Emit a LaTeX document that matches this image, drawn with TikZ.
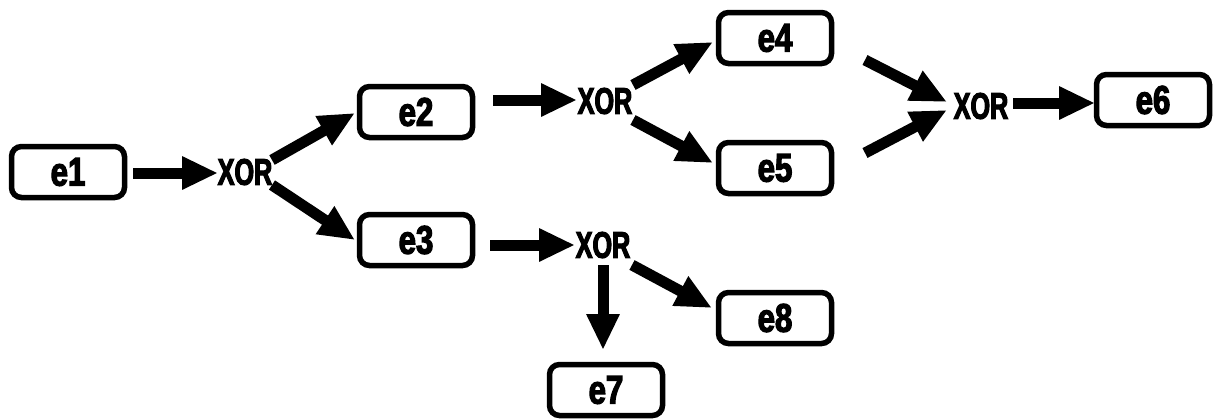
\documentclass[tikz,border=0pt]{standalone}
\usepackage{fontspec}
\newfontfamily\labelfont[FakeStretch=0.78,FakeBold=3]{Liberation Sans}
\newfontfamily\gatefont[FakeStretch=0.68,FakeBold=3]{Liberation Sans}
\usetikzlibrary{arrows.meta,calc}

\begin{document}
\begin{tikzpicture}[x=1pt,y=-1pt,
  event/.style={draw,line width=5.5pt,rounded corners=10pt,minimum width=113pt,
                minimum height=51pt,inner sep=0pt,
                font=\labelfont\bfseries\fontsize{40}{40}\selectfont},
  gate/.style={inner sep=0pt,font=\gatefont\bfseries\fontsize{37}{37}\selectfont},
  flow/.style={line width=11pt,-{Triangle[length=36pt,width=31pt]}}]
\useasboundingbox (0,0) rectangle (1221,418);

% events
\node[event] (e1) at (68,172)  {e1};
\node[event] (e2) at (416,112) {e2};
\node[event] (e3) at (416,240) {e3};
\node[event] (e4) at (775,38)  {e4};
\node[event] (e5) at (775,168) {e5};
\node[event] (e6) at (1153,100){e6};
\node[event] (e7) at (606,390) {e7};
\node[event] (e8) at (775,318) {e8};

% exclusive-or gates
\node[gate] (x1) at (245,172) {XOR};
\node[gate] (x2) at (605,101) {XOR};
\node[gate] (x3) at (981,106) {XOR};
\node[gate] (x4) at (603,245) {XOR};

% flows
\draw[flow] ($(e1)+(65,1)$)   -- ($(x1)+(-27,1)$);
\draw[flow] ($(x1)+(27,-12)$) -- ($(e2)+(-61,1)$);
\draw[flow] ($(x1)+(27,13)$)  -- ($(e3)+(-61,0)$);
\draw[flow] ($(e2)+(77,-12)$) -- ($(x2)+(-28,-1)$);
\draw[flow] ($(x2)+(28,-16)$) -- ($(e4)+(-62,4)$);
\draw[flow] ($(x2)+(28,19)$)  -- ($(e5)+(-62,-5)$);
\draw[flow] ($(e4)+(90,22)$)  -- ($(x3)+(-34,-4)$);
\draw[flow] ($(e5)+(90,-15)$) -- ($(x3)+(-34,4)$);
\draw[flow] ($(x3)+(32,-3)$)  -- ($(e6)+(-58,3)$);
\draw[flow] ($(e3)+(74,5)$)   -- ($(x4)+(-28,0)$);
\draw[flow] ($(x4)+(0,20)$)   -- ($(e7)+(-3,-40)$);
\draw[flow] ($(x4)+(29,20)$)  -- ($(e8)+(-63,-10)$);
\end{tikzpicture}
\end{document}
